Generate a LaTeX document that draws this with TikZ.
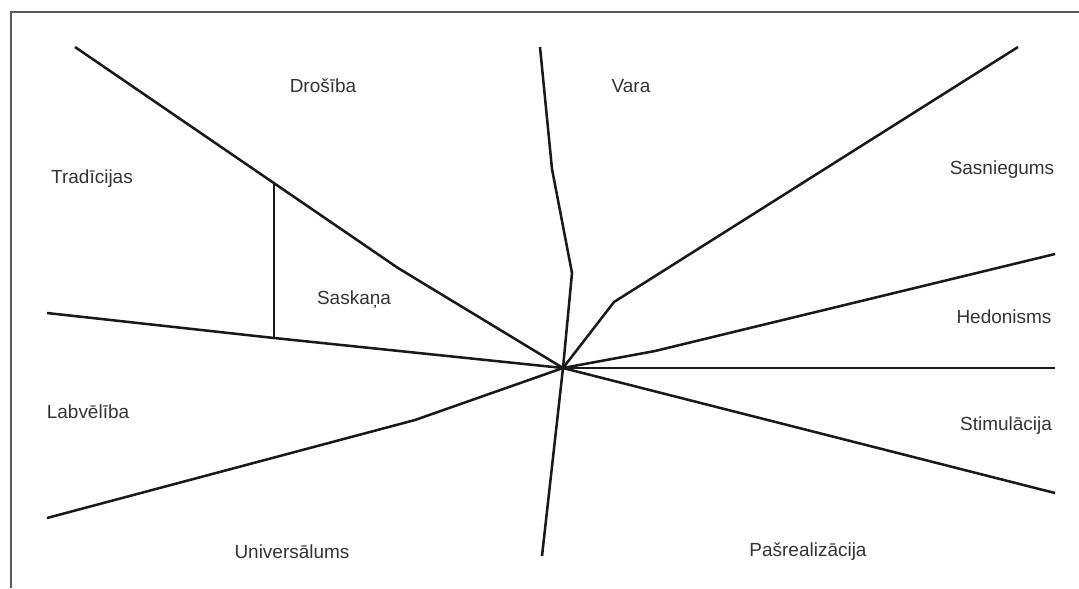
\documentclass[tikz,border=0pt]{standalone}
\usepackage{fontspec}
\setmainfont{Liberation Sans}
\usetikzlibrary{positioning}

\begin{document}
\begin{tikzpicture}[
  x=0.025cm, y=-0.025cm,
  axis/.style={line width=1.8pt, black!90, line join=miter},
  frame/.style={line width=1pt, black!65},
  label/.style={font=\fontsize{13.5}{16}\selectfont, text=black!80, inner sep=0pt}
]
\useasboundingbox (0,0) rectangle (1079,588);

% Frame
\draw[frame] (11,588) -- (11,12) -- (1079,12);

% Centre and end points
\coordinate (c) at (563,368);
\coordinate (tl) at (75,47);
\coordinate (tlk) at (398,268);
\coordinate (tlv) at (274,184);
\coordinate (ml) at (47,313);
\coordinate (mlv) at (274,338);
\coordinate (bl) at (47,518);
\coordinate (blk) at (415,420);
\coordinate (top) at (540,47);
\coordinate (topk1) at (552,169);
\coordinate (topk2) at (572,273);
\coordinate (bot) at (542,556);
\coordinate (tr) at (1018,47);
\coordinate (trk) at (614,302);
\coordinate (mr) at (1055,254);
\coordinate (mrk) at (655,351);
\coordinate (hr) at (1055,368);
\coordinate (br) at (1055,493);

% Lines
\draw[axis] (tl) -- (tlk) -- (c);
\draw[axis] (tlv) -- (mlv);
\draw[axis] (ml) -- (mlv) -- (c);
\draw[axis] (bl) -- (blk) -- (c);
\draw[axis] (top) -- (topk1) -- (topk2) -- (c) -- (bot);
\draw[axis] (c) -- (trk) -- (tr);
\draw[axis] (c) -- (mrk) -- (mr);
\draw[axis] (c) -- (hr);
\draw[axis] (c) -- (br);

% Labels
\node[label] (drosiba) at (323,86) {Drošība};
\node[label] (vara) at (631,86) {Vara};
\node[label] (tradicijas) at (92,179) {Tradīcijas};
\node[label] (sasniegums) at (1002,170) {Sasniegums};
\node[label] (saskana) at (354,300) {Saskaņa};
\node[label] (hedonisms) at (1004,317) {Hedonisms};
\node[label] (labveliba) at (88,412) {Labvēlība};
\node[label] (stimulacija) at (1006,426) {Stimulācija};
\node[label] (universalums) at (292,552) {Universālums};
\node[label] (pasrealizacija) at (808,552) {Pašrealizācija};

\end{tikzpicture}
\end{document}
